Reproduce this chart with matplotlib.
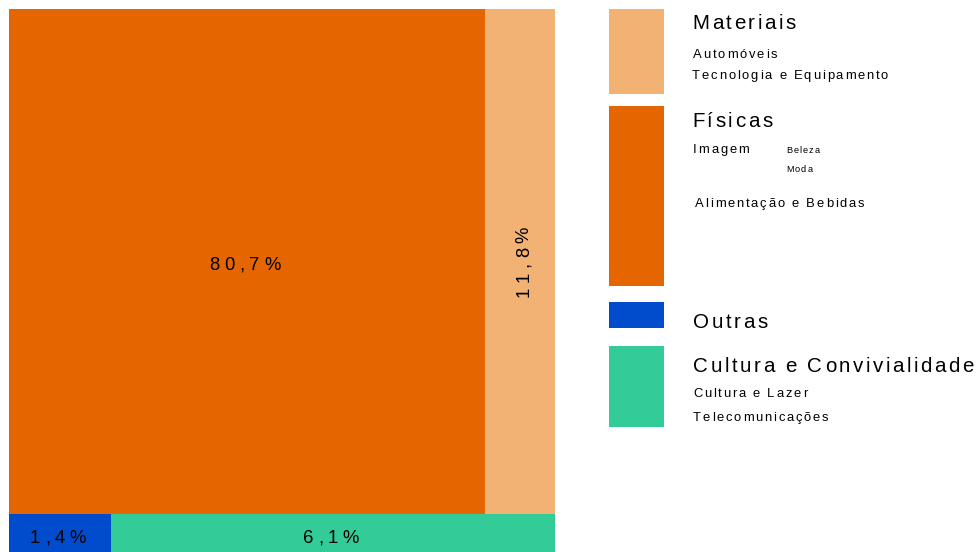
import matplotlib
matplotlib.use("Agg")
import matplotlib.pyplot as plt
from matplotlib.patches import Rectangle
from matplotlib import font_manager
from matplotlib.ft2font import FT2Font

# Shares of spending by group (%)
categories = ["Materiais", "Físicas", "Outras", "Cultura e Convivialidade"]
shares = [11.8, 80.7, 1.4, 6.1]
colors = ["#F2B274", "#E56600", "#004CCC", "#33CC99"]

# treemap rows (indices into categories), top row first
rows = [[1, 0], [2, 3]]

# legend sub-items
materiais_items = ["Automóveis", "Tecnologia e Equipamento"]
fisicas_items = ["Imagem", "Alimentação e Bebidas"]
imagem_items = ["Beleza", "Moda"]
cultura_items = ["Cultura e Lazer", "Telecomunicações"]

W, H, DPI = 976, 552, 100
FONT = "Liberation Sans"

ft = FT2Font(font_manager.findfont(font_manager.FontProperties(family=FONT)))


def advance(ch, px):
    ft.set_size(px, 72)
    return ft.load_char(ord(ch)).linearHoriAdvance / 65536


def tracked(ax, x, y, s, px, track, rotate=False, center=False):
    """Draw s with extra letter spacing; x, y in pixels from top-left (baseline)."""
    advs = [advance(c, px) for c in s]
    total = sum(advs) + track * (len(s) - 1)
    pos = -total / 2 if center else 0
    for c, a in zip(s, advs):
        if c != " ":
            if rotate:
                ax.text(x, y - pos, c, rotation=90, rotation_mode="anchor",
                        ha="left", va="baseline", fontsize=px * 72 / DPI,
                        family=FONT, color="black")
            else:
                ax.text(x + pos, y, c, ha="left", va="baseline",
                        fontsize=px * 72 / DPI, family=FONT, color="black")
        pos += a + track


fig = plt.figure(figsize=(W / DPI, H / DPI), dpi=DPI)

# treemap: a 100x100 square, area = share
ax = fig.add_axes([9 / W, -3 / H, 546 / W, 546 / H])
ax.set_xlim(0, 100)
ax.set_ylim(100, 0)
ax.axis("off")

# overlay axes in pixel units for text and legend
lax = fig.add_axes([0, 0, 1, 1])
lax.set_xlim(0, W)
lax.set_ylim(H, 0)
lax.axis("off")

label_px, label_track = 18.5, 4.6
y0 = 0
for row in rows:
    row_sum = sum(shares[i] for i in row)
    h = row_sum
    x0 = 0
    for i in row:
        w = shares[i] / row_sum * 100
        ax.add_patch(Rectangle((x0, y0), w, h, facecolor=colors[i], edgecolor="none"))
        cx, cy = lax.transData.inverted().transform(
            ax.transData.transform((x0 + w / 2, y0 + h / 2)))
        txt = f"{shares[i]:.1f}%".replace(".", ",")
        cap = 0.716 * label_px
        if w < 0.3 * h:
            tracked(lax, cx + cap / 2 + 2, cy, txt, label_px, label_track,
                    rotate=True, center=True)
        else:
            tracked(lax, cx - 2, cy + cap / 2 + 2, txt, label_px, label_track, center=True)
        x0 += w
    y0 += h

# legend
boxes = [(9, 85), (106, 180), (302, 26), (346, 81)]
for (top, bh), c in zip(boxes, colors):
    lax.add_patch(Rectangle((609, top), 55, bh, facecolor=c, edgecolor="none"))

head_px, head_tr = 20.5, 2.55
sub_px, sub_tr = 13, 1.8
tiny_px, tiny_tr = 9.3, 1.1

tracked(lax, 692, 29, categories[0], head_px, head_tr)
tracked(lax, 693, 58, materiais_items[0], sub_px, sub_tr)
tracked(lax, 692, 79, materiais_items[1], sub_px, sub_tr)

tracked(lax, 692, 127, categories[1], head_px, head_tr)
tracked(lax, 693, 153, fisicas_items[0], sub_px, sub_tr)
tracked(lax, 786, 153, imagem_items[0], tiny_px, tiny_tr)
tracked(lax, 786, 172, imagem_items[1], tiny_px, tiny_tr)
tracked(lax, 695, 207, fisicas_items[1], sub_px, sub_tr)

tracked(lax, 693, 328, categories[2], head_px, head_tr)

tracked(lax, 693, 372, categories[3], head_px, head_tr)
tracked(lax, 693, 397, cultura_items[0], sub_px, sub_tr)
tracked(lax, 693, 421, cultura_items[1], sub_px, sub_tr)

fig.savefig("out.png", dpi=DPI, facecolor="white")
